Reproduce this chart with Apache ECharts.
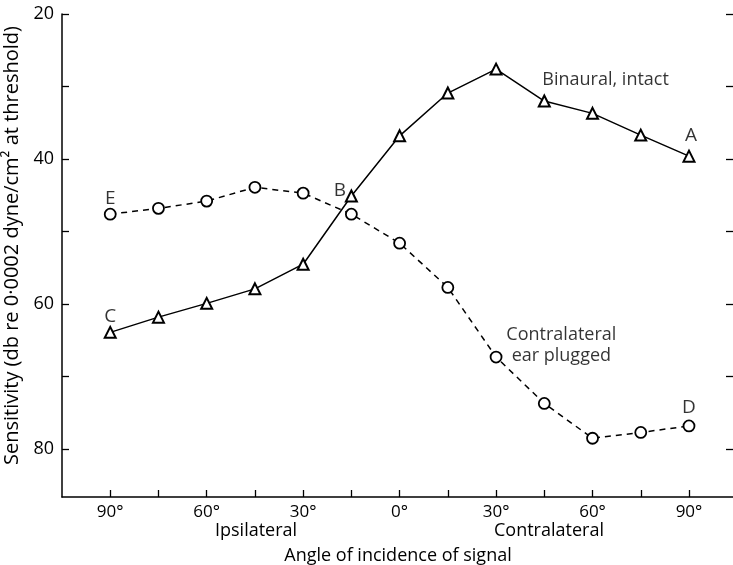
<!DOCTYPE html>
<html><head><meta charset="utf-8">
<script src="https://cdn.jsdelivr.net/npm/echarts@6/dist/echarts.min.js"></script>
<style>html,body{margin:0;padding:0;background:#fff}#c{width:733px;height:565px}</style>
</head><body><div id="c"></div>
<script>
// angle of incidence: negative = ipsilateral, positive = contralateral
const angles = [-90,-75,-60,-45,-30,-15,0,15,30,45,60,75,90];
const binaural = [63.9,61.8,59.9,57.9,54.5,45.1,36.8,30.9,27.6,32.0,33.7,36.7,39.6];
const plugged  = [47.6,46.8,45.8,43.9,44.7,47.6,51.6,57.7,67.3,73.7,78.5,77.7,76.8];
const xTickValues = [-90,-75,-60,-45,-30,-15,0,15,30,45,60,75,90];
const xLabelValues = [-90,-60,-30,0,30,60,90];
const yTickValues = [20,30,40,50,60,70,80];
const yLabelValues = [20,40,60,80];
const annotations = [
  [-90,45.4,'E'],[-90,61.7,'C'],[-18.6,44.3,'B'],[90.6,36.8,'A'],[90,74.3,'D']
];
const textNotes = [
  [44.4,29.1,'Binaural, intact','left'],
  [50.3,65.7,'Contralateral\near plugged','center']
];
const FONT = 'Open Sans';
const labelBase = {show:true,position:'inside',color:'#000',fontFamily:FONT,textBorderWidth:0,textBorderColor:'transparent',textShadowBlur:0};
const chart = echarts.init(document.getElementById('c'));
chart.setOption({
  animation:false,
  textStyle:{fontFamily:FONT,color:'#000'},
  grid:{left:62,top:14,width:672,height:483,containLabel:false,outerBoundsMode:'none'},
  xAxis:{type:'value',min:-105,max:104,
    axisLine:{onZero:false,lineStyle:{color:'#000',width:1.5}},
    axisTick:{inside:true,length:7,lineStyle:{color:'#000',width:1.3},customValues:xTickValues},
    axisLabel:{customValues:xLabelValues,formatter:v=>Math.abs(v)+'°',color:'#000',fontSize:17,margin:7,fontFamily:FONT},
    splitLine:{show:false},
    name:'Angle of incidence of signal',nameLocation:'middle',nameGap:50,
    nameTextStyle:{fontSize:18,color:'#000',fontFamily:FONT}
  },
  yAxis:[{type:'value',inverse:true,min:20,max:86.6,position:'left',
    axisLine:{show:true,onZero:false,lineStyle:{color:'#000',width:1.5}},
    axisTick:{show:true,inside:true,length:7,lineStyle:{color:'#000',width:1.3},customValues:yTickValues},
    axisLabel:{customValues:yLabelValues,color:'#000',fontSize:18,margin:8,fontFamily:FONT},
    splitLine:{show:false},
    name:'Sensitivity (db re 0·0002 dyne/cm² at threshold)',nameLocation:'middle',nameGap:30,
    nameTextStyle:{fontSize:20,color:'#000',fontFamily:FONT,padding:[0,0,0,20]}
  },{type:'value',inverse:true,min:20,max:86.6,position:'right',
    axisLine:{show:false,onZero:false},
    axisTick:{show:true,inside:true,length:8,lineStyle:{color:'#000',width:1.3},customValues:yTickValues},
    axisLabel:{show:false},splitLine:{show:false}
  }],
  graphic:[
    {type:'text',left:215,top:522,style:{text:'Ipsilateral',font:'18px "Open Sans"',fill:'#000'}},
    {type:'text',left:494,top:522,style:{text:'Contralateral',font:'18px "Open Sans"',fill:'#000'}}
  ],
  series:[
    {type:'line',data:angles.map((a,i)=>[a,binaural[i]]),symbol:'triangle',symbolSize:11,
     lineStyle:{color:'#000',width:1.5},itemStyle:{color:'#fff',borderColor:'#000',borderWidth:2},z:3},
    {type:'line',data:angles.map((a,i)=>[a,plugged[i]]),symbol:'circle',symbolSize:11,
     lineStyle:{color:'#000',width:1.5,type:[6,5]},itemStyle:{color:'#fff',borderColor:'#000',borderWidth:1.8},z:3},
    {type:'scatter',data:annotations.map(a=>({value:[a[0],a[1]],label:{formatter:a[2]}})),symbolSize:0,
     itemStyle:{color:'#000'},label:Object.assign({},labelBase,{fontSize:19}),z:4},
    {type:'scatter',data:textNotes.map(a=>({value:[a[0],a[1]],label:{formatter:a[2],align:a[3]}})),symbolSize:0,
     itemStyle:{color:'#000'},label:Object.assign({},labelBase,{fontSize:18,lineHeight:21}),z:4}
  ]
});
</script></body></html>
